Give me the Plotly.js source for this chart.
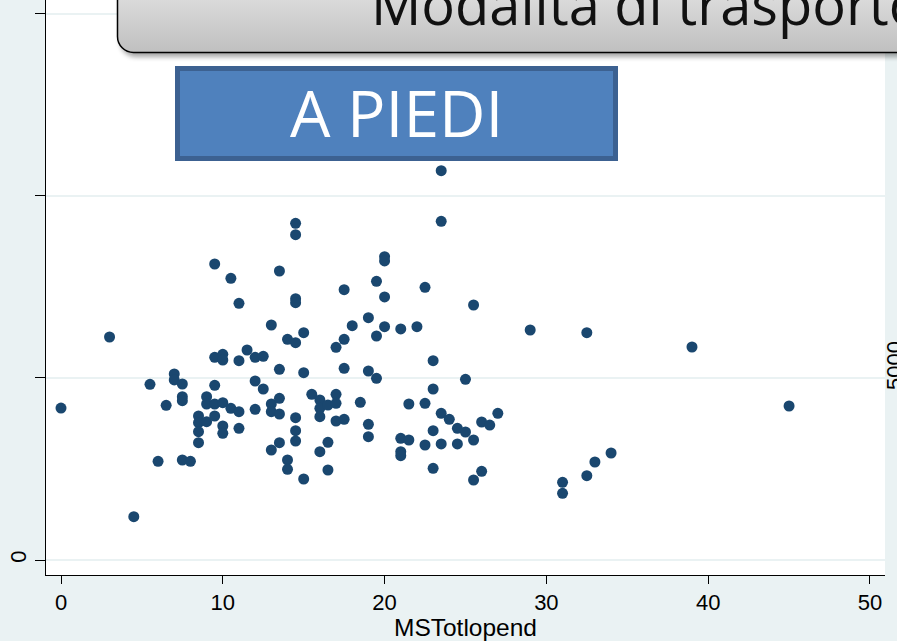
<!DOCTYPE html>
<html>
<head>
<meta charset="utf-8">
<script src="https://cdn.plot.ly/plotly-3.0.1.min.js"></script>
<style>html,body{margin:0;padding:0;background:#eaf2f3;}#chart{width:897px;height:641px;}</style>
</head>
<body>
<div id="chart"></div>
<script>
// MSTotlopend values (x) for the "A PIEDI" group
const msTotLopend = [0,3,4.5,5.5,6,6.5,7,7,7.5,7.5,7.5,7.5,8,8.5,8.5,8.5,8.5,9,9,9,
  9.5,9.5,9.5,9.5,9.5,10,10,10,10,10,10.5,10.5,11,11,11,11,11.5,12,12,12,
  12.5,12.5,13,13,13,13,13.5,13.5,13.5,13.5,13.5,14,14,14,
  14.5,14.5,14.5,14.5,14.5,14.5,14.5,14.5,15,15,15,15.5,16,16,16,16,
  16.5,16.5,16.5,17,17,17,17,17.5,17.5,17.5,17.5,18,18.5,19,19,19,19,
  19.5,19.5,19.5,20,20,20,20,21,21,21,21,21.5,21.5,22,22.5,22.5,22.5,
  23,23,23,23,23.5,23.5,23.5,23.5,24,24.5,24.5,25,25,25.5,25.5,25.5,
  26,26,26.5,27,29,31,31,32.5,32.5,33,34,39,45];
// outcome values (y)
const outcome = [4175,6126,1189,4826,2711,4250,5109,4945,4835,4486,4376,2747,2711,3956,3772,3524,3222,4486,4285,3799,
  8131,5568,4799,4285,3956,5651,5494,4321,3681,3480,7738,4167,7052,5475,4074,3618,5769,5568,4917,4140,
  5596,4697,6455,4285,4074,3022,7939,5239,4442,4011,3222,6063,2747,2492,
  9249,8936,7178,7068,5969,3909,3552,3269,6244,5145,2225,4552,4395,4167,3936,2975,
  4258,3233,2472,4552,4305,3818,5843,3865,7425,6063,5266,6436,4332,6656,5192,3728,3387,
  7656,6153,4991,8332,8214,7225,6409,6346,3343,2975,2865,4285,3296,6409,7491,4305,3159,
  5475,4697,3552,2519,10694,9304,4030,3187,3865,3618,3187,4964,3516,7005,3296,2198,
  3791,2437,3708,4030,6318,2134,1832,6244,2316,2692,2939,5851,4230];

const xTicks = [0,10,20,30,40,50];
const yTicks = [0,5000,10000,15000];
const yTickText = ['0','','',''];
const xTitle = 'MSTotlopend';
const panelTitle = 'Modalità di trasporto';
const groupLabel = 'A PIEDI';
const rightLabel = '5000';

// pixel helpers (plot area: x 46..885, y 0..575)
const L = 46, R = 885, T = 0, B = 575;
const px = v => (v - L) / (R - L);
const py = v => (B - v) / (B - T);

const svg = "<svg xmlns='http://www.w3.org/2000/svg' width='787' height='70'>" +
  "<defs><linearGradient id='g' gradientUnits='userSpaceOnUse' x1='0' y1='0' x2='0' y2='53'>" +
  "<stop offset='0' stop-color='#dadada'/><stop offset='1' stop-color='#bfbfbf'/></linearGradient>" +
  "<filter id='f' x='-10%' y='-50%' width='120%' height='200%'><feGaussianBlur stdDeviation='2.5'/></filter></defs>" +
  "<rect x='10' y='-30' width='800' height='87' rx='16' fill='#000' opacity='0.35' filter='url(#f)'/>" +
  "<rect x='7.5' y='-30' width='800' height='82.5' rx='16' fill='url(#g)' stroke='#000' stroke-width='1.5'/>" +
  "</svg>";
const svgUri = 'data:image/svg+xml;charset=utf-8,' + encodeURIComponent(svg);

const trace = {
  type: 'scatter', mode: 'markers',
  x: msTotLopend, y: outcome,
  marker: {color: '#1a476f', size: 11, line: {width: 0}},
  hoverinfo: 'skip'
};

const axisFont = {family: 'Liberation Sans, Arial, sans-serif', size: 22, color: '#000'};

const layout = {
  width: 897, height: 641,
  margin: {l: 46, r: 12, t: 0, b: 66, pad: 0},
  paper_bgcolor: '#eaf2f3', plot_bgcolor: '#ffffff',
  showlegend: false,
  xaxis: {
    range: [-0.927, 50.93], tickvals: xTicks, ticktext: xTicks.map(String),
    ticks: 'outside', ticklen: 8, tickwidth: 1, tickcolor: '#000',
    showline: true, linecolor: '#000', linewidth: 1, mirror: false,
    showgrid: false, zeroline: false, tickfont: axisFont, automargin: false,
    title: {text: xTitle, font: {family: 'Liberation Sans, Arial, sans-serif', size: 24.5, color: '#000'}, standoff: 5}
  },
  yaxis: {
    range: [-412, 15383], tickvals: yTicks, ticktext: yTickText,
    ticks: 'outside', ticklen: 10, tickwidth: 1, tickcolor: '#000',
    showline: true, linecolor: '#000', linewidth: 1,
    showgrid: true, gridcolor: '#eaf2f3', gridwidth: 2, zeroline: false,
    tickangle: -90, tickfont: axisFont, automargin: false
  },
  images: [{
    source: svgUri, xref: 'paper', yref: 'paper',
    x: px(110), y: py(0), sizex: 787 / (R - L), sizey: 70 / (B - T),
    xanchor: 'left', yanchor: 'top', sizing: 'stretch', layer: 'above'
  }],
  shapes: [{
    type: 'rect', xref: 'paper', yref: 'paper', layer: 'above',
    x0: px(177.5), x1: px(615.5), y0: py(158.5), y1: py(68.5),
    fillcolor: '#4f81bd', line: {color: '#3c6191', width: 5}
  }],
  annotations: [
    {xref: 'paper', yref: 'paper', x: px(369), y: py(3), xanchor: 'left', yanchor: 'middle',
     text: panelTitle, showarrow: false, font: {family: 'Open Sans, sans-serif', size: 56, color: '#111'}},
    {xref: 'paper', yref: 'paper', x: px(396), y: py(112), xanchor: 'center', yanchor: 'middle',
     text: groupLabel, showarrow: false, font: {family: 'Open Sans, sans-serif', size: 64, color: '#ffffff'}},
    {xref: 'paper', yref: 'paper', x: px(894), y: py(366), xanchor: 'center', yanchor: 'middle',
     text: rightLabel, textangle: -90, showarrow: false, font: axisFont}
  ]
};

Plotly.newPlot('chart', [trace], layout, {displayModeBar: false, staticPlot: true});
</script>
</body>
</html>
